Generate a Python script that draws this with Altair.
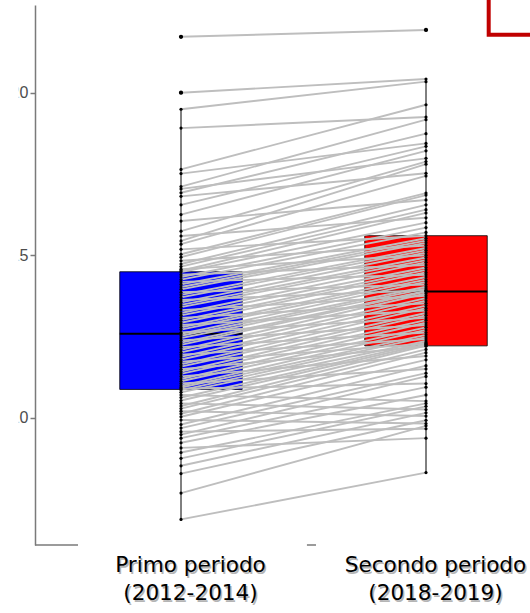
import altair as alt
import pandas as pd

# ---- data ----
periods = [1, 2]
period_labels = ["Primo periodo\n(2012-2014)", "Secondo periodo\n(2018-2019)"]
box_colors = ["#0000FF", "#FF0000"]

q1 = [10.87, 12.21]
median = [12.58, 13.88]
q3 = [14.49, 15.60]
whisker_low = [6.87, 8.31]
whisker_high = [19.49, 20.42]

outlier_period = [1, 1, 2]
outlier_value = [21.72, 20.00, 21.93]

first_period = [
    21.72, 20.00, 19.49, 18.91, 17.64, 17.51, 17.11, 17.04, 16.92, 16.81, 16.55, 16.25, 16.05,
    15.74, 15.59, 15.44, 15.34, 15.18, 15.03, 14.94, 14.83, 14.73, 14.65, 14.57, 14.52,
    14.48, 14.40, 14.33, 14.25, 14.18, 14.10, 14.02, 13.95, 13.86, 13.78, 13.70, 13.62, 13.55,
    13.47, 13.40, 13.31, 13.22, 13.15, 13.07, 13.00, 12.92, 12.85, 12.78, 12.71, 12.62,
    12.58, 12.52, 12.45, 12.38, 12.31, 12.24, 12.17, 12.09, 12.01, 11.94, 11.87, 11.79, 11.72,
    11.64, 11.57, 11.49, 11.42, 11.35, 11.27, 11.19, 11.12, 11.05, 10.98, 10.93, 10.89,
    10.85, 10.78, 10.70, 10.62, 10.53, 10.44, 10.36, 10.28, 10.20, 10.12, 10.03, 9.93, 9.79,
    9.68, 9.57, 9.48, 9.37, 9.23, 9.07, 8.93, 8.75, 8.52, 8.28, 7.68, 6.87,
]
second_period = [
    21.93, 20.42, 20.34, 19.25, 19.63, 18.44, 19.17, 17.98, 18.74, 17.52, 18.35, 18.21, 16.70,
    17.88, 16.15, 17.80, 17.44, 15.60, 16.91, 16.85, 15.30, 16.55, 16.40, 15.00, 16.30,
    16.00, 14.70, 15.85, 15.70, 14.40, 15.52, 15.45, 15.38, 14.10, 15.22, 15.15, 13.92, 15.08,
    14.93, 14.85, 13.75, 14.78, 14.62, 13.52, 14.55, 14.47, 13.30, 14.33, 14.25, 13.07,
    14.18, 14.03, 13.97, 12.85, 13.90, 13.88, 12.62, 13.82, 13.68, 12.42, 13.60, 13.45, 12.28,
    13.37, 13.22, 12.20, 13.15, 13.00, 11.90, 12.92, 12.78, 11.50, 12.70, 12.55, 11.05,
    12.48, 12.36, 10.51, 12.31, 12.26, 10.25, 12.22, 12.10, 10.05, 12.00, 11.78, 9.82, 11.60,
    11.37, 9.66, 11.27, 10.94, 10.70, 9.37, 10.44, 10.35, 10.15, 9.92, 9.75, 8.31,
]

# ---- tables ----
n = len(first_period)
pairs = pd.DataFrame({
    "id": list(range(n)) * 2,
    "period": [1] * n + [2] * n,
    "value": first_period + second_period,
})
boxes = pd.DataFrame({
    "period": periods, "q1": q1, "median": median, "q3": q3,
    "lo": whisker_low, "hi": whisker_high, "fill": box_colors,
})
outs = pd.DataFrame({"period": outlier_period, "value": outlier_value})
labels = pd.DataFrame({"period": periods, "label": period_labels})

XDOM = [0.40408, 2.42449]
YDOM = [6.083, 22.698]
HALF = 0.25

xs = alt.Scale(domain=XDOM, nice=False, zero=False)
ys = alt.Scale(domain=YDOM, nice=False, zero=False)

yaxis = alt.Axis(values=[10, 15, 20], grid=False, title=None,
                 labelFont="Liberation Sans, Arial, sans-serif", labelFontSize=16,
                 labelColor="#4d4d4d",
                 tickColor="#7a7a7a", tickSize=5, tickWidth=1.5,
                 domainColor="#7a7a7a", domainWidth=1.5, labelPadding=2)

whiskers = alt.Chart(boxes).mark_rule(color="black", strokeWidth=1).encode(
    x=alt.X("period:Q", scale=xs, axis=None),
    y=alt.Y("lo:Q", scale=ys, axis=yaxis),
    y2="hi:Q",
)

box = alt.Chart(boxes).transform_calculate(
    xl=f"datum.period - {HALF}", xr=f"datum.period + {HALF}"
).mark_rect(stroke="black", strokeWidth=0.8, opacity=1).encode(
    x=alt.X("xl:Q", scale=xs, axis=None),
    x2="xr:Q",
    y=alt.Y("q1:Q", scale=ys),
    y2="q3:Q",
    fill=alt.Fill("fill:N", scale=None, legend=None),
)

med = alt.Chart(boxes).transform_calculate(
    xl=f"datum.period - {HALF}", xr=f"datum.period + {HALF}"
).mark_rule(color="black", strokeWidth=2).encode(
    x=alt.X("xl:Q", scale=xs, axis=None),
    x2="xr:Q",
    y=alt.Y("median:Q", scale=ys),
)

lines = alt.Chart(pairs).mark_line(color="#BEBEBE", strokeWidth=1.9).encode(
    x=alt.X("period:Q", scale=xs, axis=None),
    y=alt.Y("value:Q", scale=ys),
    detail="id:N",
)

points = alt.Chart(pairs).mark_circle(color="black", size=10, opacity=1).encode(
    x=alt.X("period:Q", scale=xs, axis=None),
    y=alt.Y("value:Q", scale=ys),
)

outliers = alt.Chart(outs).mark_circle(color="black", size=18, opacity=1).encode(
    x=alt.X("period:Q", scale=xs, axis=None),
    y=alt.Y("value:Q", scale=ys),
)

text_kw = dict(lineBreak="\n", font="DejaVu Sans", fontSize=21.6, lineHeight=28,
               baseline="alphabetic", align="center")
shadow = alt.Chart(labels).mark_text(color="#b5b5b5", dx=11, dy=1.5, **text_kw).encode(
    x=alt.X("period:Q", scale=xs, axis=None), y=alt.value(567), text="label:N")
txt = alt.Chart(labels).mark_text(color="black", dx=9.5, **text_kw).encode(
    x=alt.X("period:Q", scale=xs, axis=None), y=alt.value(567), text="label:N")

# decorative remnants of the original picture
deco = pd.DataFrame({"x": [2.2559], "x2": [2.8], "y": [21.78], "y2": [24.0]})
redbox = alt.Chart(deco).mark_rect(fillOpacity=0, stroke="#C00000", strokeWidth=4).encode(
    x=alt.X("x:Q", scale=xs, axis=None), x2="x2:Q",
    y=alt.Y("y:Q", scale=ys), y2="y2:Q",
)
stub = pd.DataFrame({"x": [0.40408, 1.514], "x2": [0.5796, 1.551]})
stubs = alt.Chart(stub).mark_rule(color="#7a7a7a", strokeWidth=1.5).encode(
    x=alt.X("x:Q", scale=xs, axis=None), x2="x2:Q", y=alt.value(540))

mask = alt.Chart(pd.DataFrame({"a": [0]})).mark_rect(color="white").encode(
    x=alt.value(-40), x2=alt.value(-16.2), y=alt.value(-10), y2=alt.value(560))

chart = alt.layer(
    whiskers, box, med, lines, points, outliers, shadow, txt, redbox, stubs, mask
).properties(
    width=495, height=540,
    autosize=alt.AutoSizeParams(type="none"),
    padding={"left": 35, "top": 5, "right": 0, "bottom": 68},
).configure_view(stroke=None)

chart.save("out.html", embed_options={"renderer": "svg", "actions": False})
